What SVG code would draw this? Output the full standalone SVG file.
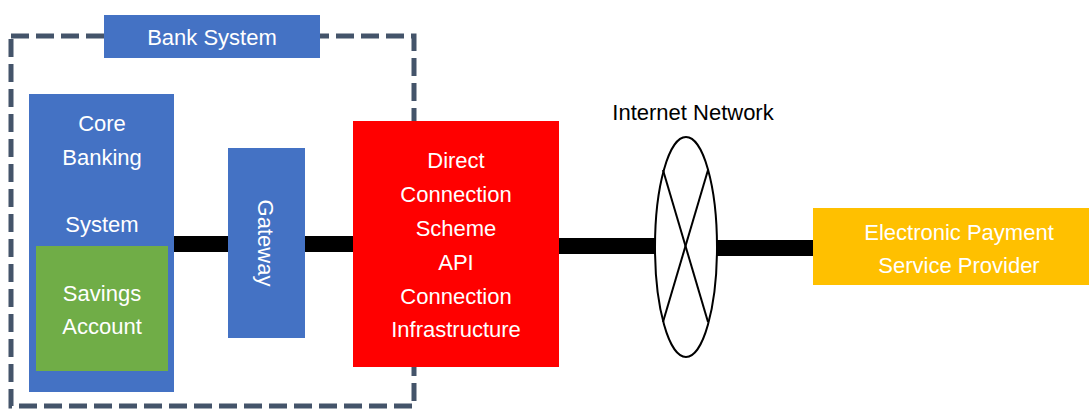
<svg xmlns="http://www.w3.org/2000/svg" width="1092" height="409" viewBox="0 0 1092 409">
<style>
.t{font-family:"Liberation Sans",Arial,sans-serif;font-size:22px;fill:#fff;text-anchor:middle}
.k{fill:#000}
.blue{fill:#4472C4}
.conn{stroke:#000;stroke-width:16;fill:none}
</style>
<rect width="1092" height="409" fill="#fff"/>
<g id="bank-system">
<rect x="11" y="36" width="403" height="370" fill="none" stroke="#44546A" stroke-width="5" stroke-dasharray="18,7"/>
<rect class="blue" x="104" y="15" width="216" height="43"/>
<text class="t" x="212" y="45">Bank System</text>
</g>
<g id="connectors">
<line class="conn" x1="174" y1="244" x2="228" y2="244"/>
<line class="conn" x1="305" y1="244" x2="353" y2="244"/>
<line class="conn" x1="559" y1="246" x2="655" y2="246"/>
<line class="conn" x1="717" y1="248" x2="813" y2="248"/>
</g>
<g id="core-banking">
<rect class="blue" x="29" y="94" width="145" height="298"/>
<text class="t" x="102" y="131">Core</text>
<text class="t" x="102" y="165">Banking</text>
<text class="t" x="102" y="232">System</text>
</g>
<g id="savings-account">
<rect x="36" y="246" width="132" height="125" fill="#70AD47"/>
<text class="t" x="102" y="301">Savings</text>
<text class="t" x="102" y="334">Account</text>
</g>
<g id="gateway">
<rect class="blue" x="228" y="148" width="77" height="190"/>
<text class="t" transform="translate(258,243) rotate(90)" x="0" y="0">Gateway</text>
</g>
<g id="direct-connection">
<rect x="353" y="121" width="206" height="246" fill="#FF0000"/>
<text class="t" x="456" y="168">Direct</text>
<text class="t" x="456" y="202">Connection</text>
<text class="t" x="456" y="236">Scheme</text>
<text class="t" x="456" y="270">API</text>
<text class="t" x="456" y="304">Connection</text>
<text class="t" x="456" y="337">Infrastructure</text>
</g>
<g id="internet-network">
<ellipse cx="686" cy="247" rx="31" ry="110" fill="#fff" stroke="#000" stroke-width="2"/>
<line x1="663" y1="170" x2="708" y2="322" stroke="#000" stroke-width="2"/>
<line x1="708" y1="170" x2="663" y2="322" stroke="#000" stroke-width="2"/>
<text class="t k" x="693" y="120">Internet Network</text>
</g>
<g id="epsp">
<rect x="813" y="208" width="276" height="77" fill="#FFC000"/>
<text class="t" x="959" y="240">Electronic Payment</text>
<text class="t" x="959" y="273">Service Provider</text>
</g>
</svg>
